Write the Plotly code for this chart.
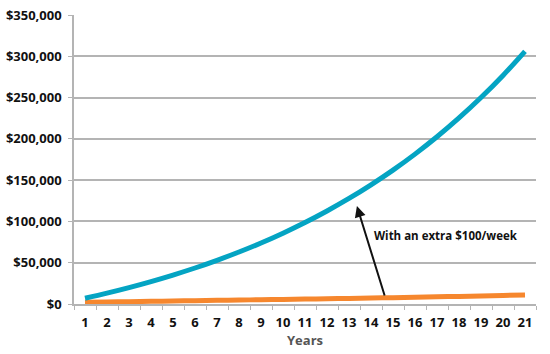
import plotly.graph_objects as go

years = [str(i) for i in range(1, 22)]
with_extra = [7000, 13200, 19900, 27200, 35100, 43600, 52900, 63000, 73900, 85800,
              98700, 112700, 127800, 144300, 162100, 181500, 202500, 225300, 250000,
              276800, 306000]
without_extra = [2000, 2400, 2800, 3200, 3600, 4000, 4400, 4800, 5200, 5600, 6000,
                 6400, 6800, 7200, 7700, 8200, 8700, 9200, 9800, 10400, 11000]
y_ticks = [0, 50000, 100000, 150000, 200000, 250000, 300000, 350000]
y_labels = ["$0", "$50,000", "$100,000", "$150,000", "$200,000", "$250,000",
            "$300,000", "$350,000"]

BLUE = "#04A4C3"
ORANGE = "#F6872E"
GRID = "#B4B4B4"
FONT = "Open Sans"

fig = go.Figure()
fig.add_trace(go.Scatter(x=years, y=without_extra, mode="lines",
                         line=dict(color=ORANGE, width=5, shape="spline"),
                         showlegend=False, hoverinfo="skip"))
fig.add_trace(go.Scatter(x=years, y=with_extra, mode="lines",
                         line=dict(color=BLUE, width=5, shape="spline"),
                         showlegend=False, hoverinfo="skip"))

fig.add_annotation(x=12.36, y=118600, ax=13.64, ay=8500, xref="x", yref="y",
                   axref="x", ayref="y", text="", showarrow=True,
                   arrowhead=2, arrowsize=1.1, arrowwidth=2, arrowcolor="#111111")
fig.add_annotation(x=16.41, y=83500, xref="x", yref="y",
                   text="With an extra $100/week", showarrow=False,
                   font=dict(family=FONT, size=11.5, color="#111111", weight="bold"))

fig.update_layout(
    width=550, height=354,
    margin=dict(l=74, r=14, t=15, b=50),
    paper_bgcolor="white", plot_bgcolor="white",
    font=dict(family=FONT, size=13, color="#111111", weight="bold"),
)
fig.update_xaxes(
    type="category", range=[-0.5, 20.5], tickson="boundaries", ticks="outside",
    ticklen=4, tickangle=0, automargin=False, ticklabelstandoff=6,
    tickcolor=GRID, showgrid=False, showline=True, linecolor=GRID, linewidth=1.5,
    tickfont=dict(family=FONT, size=13, color="#111111", weight="bold"),
    title=dict(text="Years", standoff=2,
               font=dict(family=FONT, size=13, color="#555555", weight="bold")),
)
fig.update_yaxes(
    range=[0, 350000], tickvals=y_ticks, ticktext=y_labels, automargin=False,
    ticks="outside", ticklen=4, tickcolor=GRID,
    showgrid=True, gridcolor=GRID, gridwidth=1.5,
    showline=True, linecolor=GRID, linewidth=1.5, zeroline=False,
    ticklabelstandoff=4,
    tickfont=dict(family=FONT, size=13, color="#111111", weight="bold"),
)

fig.write_html("out.html")
